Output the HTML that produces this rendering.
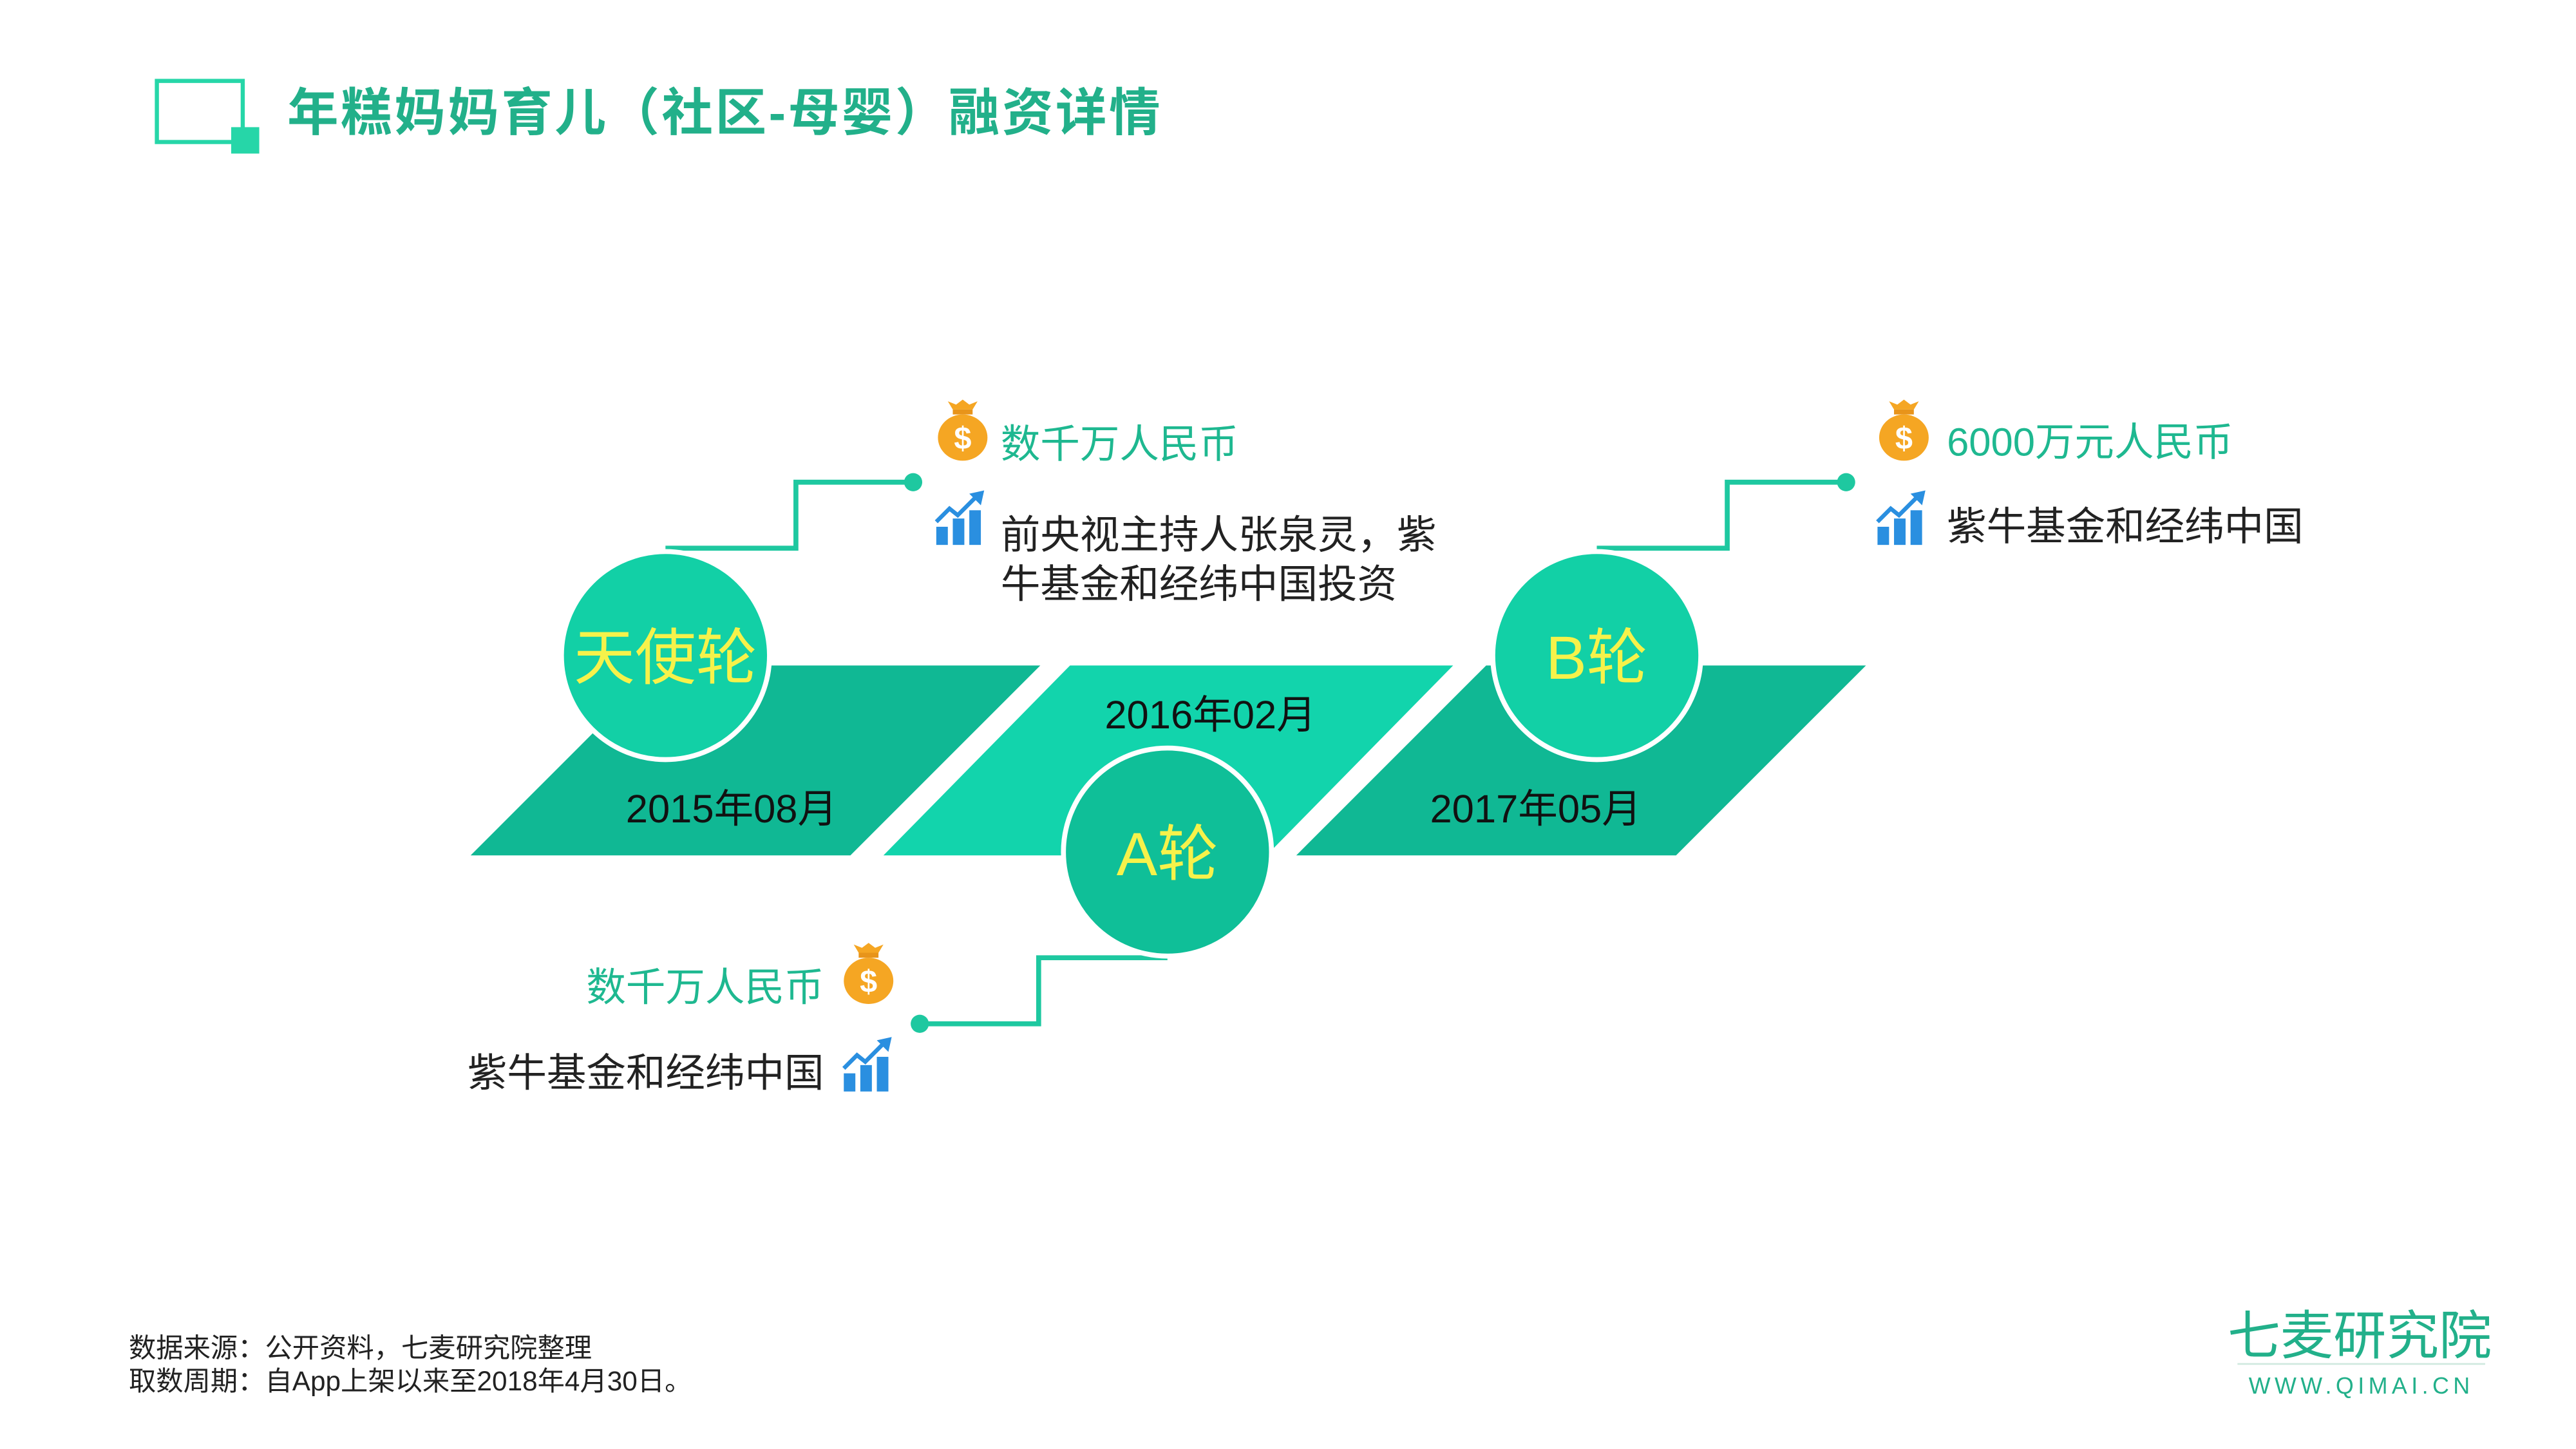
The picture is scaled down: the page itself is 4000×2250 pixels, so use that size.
<!DOCTYPE html>
<html><head><meta charset="utf-8"><style>
html,body{margin:0;padding:0;background:#fff;width:4000px;height:2250px;overflow:hidden}
svg{display:block}
text{font-family:"Liberation Sans","Noto Sans CJK SC",sans-serif}
</style></head><body>
<svg width="4000" height="2250" viewBox="0 0 1560 877.5" xmlns="http://www.w3.org/2000/svg">
<defs>
<g id="bag">
  <path d="M-6,-16 L-9,-21 L-4,-19 L0,-22 L4,-19 L9,-21 L6,-16 Z" fill="#f5a623"/>
  <rect x="-6" y="-16" width="12" height="3" fill="#e8941a"/>
  <ellipse cx="0" cy="1" rx="15" ry="14" fill="#f5a623"/>
  <text x="0" y="8" font-size="19" font-weight="bold" fill="#fff" text-anchor="middle">$</text>
</g>
<g id="chart">
  <rect x="-15" y="3" width="7" height="11" fill="#2a8fe0"/>
  <rect x="-5" y="-2" width="7" height="16" fill="#2a8fe0"/>
  <rect x="5" y="-7" width="7" height="21" fill="#2a8fe0"/>
  <polyline points="-15,0 -7,-8 -2,-4 10,-16" fill="none" stroke="#2a8fe0" stroke-width="2.5"/>
  <polygon points="14,-19 5,-17 12,-10" fill="#2a8fe0"/>
</g>
</defs>
<!-- title -->
<rect x="95" y="49" width="52" height="37" fill="none" stroke="#26d6a8" stroke-width="2.5"/>
<rect x="140" y="77" width="17" height="16" fill="#26d6a8"/>
<text x="174" y="79" font-size="31" font-weight="bold" fill="#22b08a" letter-spacing="1.4">年糕妈妈育儿（社区-母婴）融资详情</text>

<!-- parallelograms -->
<polygon points="285,518 515,518 630,403 400,403" fill="#10b894"/>
<polygon points="535,518 767,518 880,403 648,403" fill="#12d4ac"/>
<polygon points="785,518 1015,518 1130,403 900,403" fill="#10b894"/>

<!-- connectors -->
<g fill="none" stroke="#1ec8a0" stroke-width="3">
<polyline points="403,332 482,332 482,292 553,292"/>
<polyline points="967,332 1046,332 1046,292 1118,292"/>
<polyline points="707,580 629,580 629,620 557,620"/>
</g>
<g fill="#1ec8a0">
<circle cx="553" cy="292" r="5.5"/><circle cx="1118" cy="292" r="5.5"/><circle cx="557" cy="620" r="5.5"/>
</g>

<!-- circles -->
<circle cx="403" cy="397" r="63" fill="#12d0a6" stroke="#fff" stroke-width="3"/>
<circle cx="707" cy="516" r="63" fill="#0fbf98" stroke="#fff" stroke-width="3"/>
<circle cx="967" cy="397" r="63" fill="#12d0a6" stroke="#fff" stroke-width="3"/>
<text x="403" y="411" font-size="37" fill="#f6f24a" text-anchor="middle">天使轮</text>
<text x="707" y="530" font-size="37" fill="#f6f24a" text-anchor="middle">A轮</text>
<text x="967" y="411" font-size="37" fill="#f6f24a" text-anchor="middle">B轮</text>

<!-- dates -->
<g font-size="24" fill="#111" text-anchor="middle">
<text x="443" y="498">2015年08月</text>
<text x="733" y="441">2016年02月</text>
<text x="930" y="498">2017年05月</text>
</g>

<!-- angel info -->
<use href="#bag" x="583" y="264"/>
<text x="606" y="277" font-size="24" fill="#1eb890">数千万人民币</text>
<use href="#chart" x="582" y="316"/>
<text x="606" y="332" font-size="24" fill="#222">前央视主持人张泉灵，紫</text>
<text x="606" y="362" font-size="24" fill="#222">牛基金和经纬中国投资</text>

<!-- B info -->
<use href="#bag" x="1153" y="264"/>
<text x="1179" y="276" font-size="24" fill="#1eb890">6000万元人民币</text>
<use href="#chart" x="1152" y="316"/>
<text x="1179" y="327" font-size="24" fill="#222">紫牛基金和经纬中国</text>

<!-- A info -->
<use href="#bag" x="526" y="593"/>
<text x="499" y="606" font-size="24" fill="#1eb890" text-anchor="end">数千万人民币</text>
<use href="#chart" x="526" y="647"/>
<text x="499" y="658" font-size="24" fill="#222" text-anchor="end">紫牛基金和经纬中国</text>

<!-- footer -->
<text x="78" y="822" font-size="16.5" fill="#222">数据来源：公开资料，七麦研究院整理</text>
<text x="78" y="842" font-size="16.5" fill="#222">取数周期：自App上架以来至2018年4月30日。</text>
<text x="1429" y="820" font-size="32" fill="#22b08a" text-anchor="middle">七麦研究院</text>
<line x1="1355" y1="826" x2="1505" y2="826" stroke="#cfe9df" stroke-width="1"/>
<text x="1430" y="844" font-size="14" fill="#22b08a" text-anchor="middle" letter-spacing="2.5">WWW.QIMAI.CN</text>
</svg>
</body></html>
